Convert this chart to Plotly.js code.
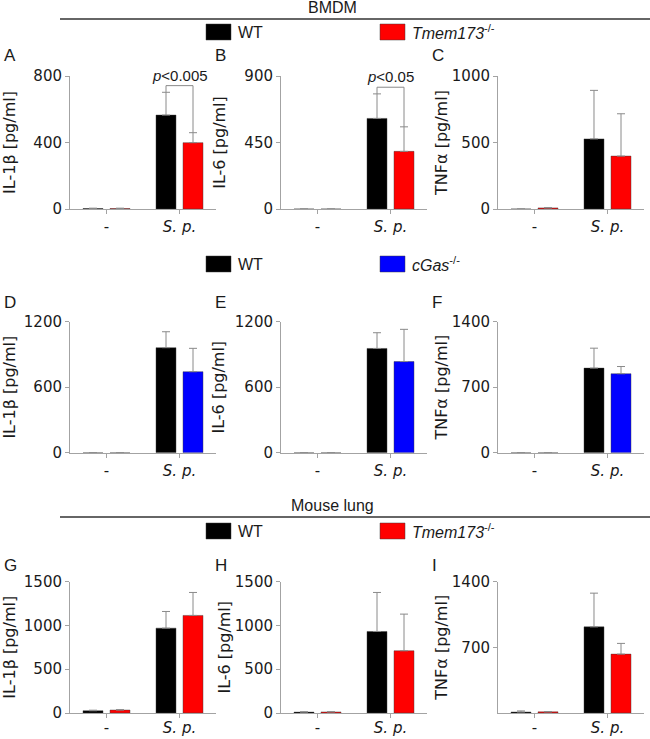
<!DOCTYPE html>
<html><head><meta charset="utf-8">
<script src="https://cdn.plot.ly/plotly-3.0.1.min.js"></script>
<style>body{margin:0;background:#fff}</style>
</head><body><div id="chart" style="width:650px;height:739px"></div>
<script>
const categories = ['-', 'S. p.'];
const categoryLabels = ['-', '<i>S. p.</i>'];
const seriesWT = 'WT';
const seriesTmem = '<i>Tmem173</i><sup>-/-</sup>';
const seriesCgas = '<i>cGas</i><sup>-/-</sup>';
const sectionTitles = ['BMDM', 'Mouse lung'];

// Row 1: BMDM, WT vs Tmem173-/-
const A_wt = [3, 565], A_wt_sd = [2, 137];
const A_ko = [3, 399], A_ko_sd = [2, 60];
const B_wt = [0, 613], B_wt_sd = [0, 166];
const B_ko = [0, 390], B_ko_sd = [0, 166];
const C_wt = [0, 527], C_wt_sd = [0, 365];
const C_ko = [8, 398], C_ko_sd = [2, 318];
// Row 2: BMDM, WT vs cGas-/-
const D_wt = [0, 962], D_wt_sd = [0, 146];
const D_ko = [0, 742], D_ko_sd = [0, 214];
const E_wt = [0, 955], E_wt_sd = [0, 144];
const E_ko = [0, 835], E_ko_sd = [0, 295];
const F_wt = [0, 904], F_wt_sd = [0, 213];
const F_ko = [0, 844], F_ko_sd = [0, 77];
// Row 3: Mouse lung, WT vs Tmem173-/-
const G_wt = [26, 968], G_wt_sd = [6, 190];
const G_ko = [34, 1113], G_ko_sd = [4, 262];
const H_wt = [10, 930], H_wt_sd = [4, 445];
const H_ko = [12, 710], H_ko_sd = [3, 418];
const I_wt = [10, 917], I_wt_sd = [12, 359];
const I_ko = [12, 627], I_ko_sd = [3, 114];

const panelLetters = ['A','B','C','D','E','F','G','H','I'];
const yTitles = ['IL-1β [pg/ml]','IL-6 [pg/ml]','TNFα [pg/ml]','IL-1β [pg/ml]','IL-6 [pg/ml]','TNFα [pg/ml]','IL-1β [pg/ml]','IL-6 [pg/ml]','TNFα [pg/ml]'];
const yMax = [800, 900, 1000, 1200, 1200, 1400, 1500, 1500, 1400];
const yTickVals = [[0,400,800],[0,450,900],[0,500,1000],[0,600,1200],[0,600,1200],[0,700,1400],[0,500,1000,1500],[0,500,1000,1500],[700,1400]];
const pPanels = [0, 1];
const pTexts = ['<i>p</i>&lt;0.005', '<i>p</i>&lt;0.05'];

const wtMeans = [A_wt,B_wt,C_wt,D_wt,E_wt,F_wt,G_wt,H_wt,I_wt];
const wtSDs = [A_wt_sd,B_wt_sd,C_wt_sd,D_wt_sd,E_wt_sd,F_wt_sd,G_wt_sd,H_wt_sd,I_wt_sd];
const koMeans = [A_ko,B_ko,C_ko,D_ko,E_ko,F_ko,G_ko,H_ko,I_ko];
const koSDs = [A_ko_sd,B_ko_sd,C_ko_sd,D_ko_sd,E_ko_sd,F_ko_sd,G_ko_sd,H_ko_sd,I_ko_sd];
const rowKO = [seriesTmem, seriesCgas, seriesTmem];
const rowKOColor = ['#ff0000', '#0000ff', '#ff0000'];

// ---- layout geometry (pixels) ----
const W = 650, H = 739;
const colX = [[70,216],[281,427],[498,644]];
const rowY = [[76,209],[321.7,452.7],[581.5,713]];
const xLabelShift = [0, 0, -3];
const letterX = [2, 213, 430];
const letterY = [56, 303, 565];
const legendY = [32, 264, 531];
const ruleY = [19, 517];
const headY = [8, 505];
const titleStandoff = [[14,14,0],[6,6,0],[8,0,0]];
const px = v => v / W;
const py = v => 1 - v / H;

const BARGAP = 0.26, BARGROUPGAP = 0.26;
const slot = (1 - BARGAP) / 2;

const axisGray = '#a3a3a3';
const errGray = '#8a8a8a';
const txtCol = '#1a1a1a';
const panelFont = {family: 'DejaVu Sans, Verdana, sans-serif', size: 15, color: txtCol};
const headFont = {family: 'Liberation Sans, Arial, sans-serif', size: 16, color: txtCol};

const traces = [];
const layout = {
  width: W, height: H,
  margin: {l: 0, r: 0, t: 0, b: 0},
  paper_bgcolor: '#fff', plot_bgcolor: '#fff',
  barmode: 'group', bargap: BARGAP, bargroupgap: BARGROUPGAP,
  showlegend: false,
  annotations: [], shapes: []
};

for (let i = 0; i < 9; i++) {
  const r = Math.floor(i / 3), c = i % 3;
  const sfx = i === 0 ? '' : String(i + 1);
  const xa = 'x' + sfx, ya = 'y' + sfx;
  const mk = (name, y, sd, color) => ({
    type: 'bar', name: name, x: categories, y: y,
    xaxis: xa, yaxis: ya,
    marker: {color: color, line: {color: 'rgba(60,60,60,0.55)', width: 0.8}},
    error_y: {type: 'data', symmetric: false, array: sd, arrayminus: sd.map(() => 0),
              color: errGray, thickness: 1, width: 4},
    hoverinfo: 'x+y+name'
  });
  traces.push(mk(seriesWT, wtMeans[i], wtSDs[i], '#000000'));
  traces.push(mk(rowKO[r], koMeans[i], koSDs[i], rowKOColor[r]));

  layout['xaxis' + sfx] = {
    domain: [px(colX[c][0]), px(colX[c][1])], anchor: ya,
    type: 'category', range: [-0.5, 1.5],
    tickmode: 'array', tickvals: categories, ticktext: categoryLabels,
    showline: true, linecolor: axisGray, linewidth: 1,
    ticks: 'outside', ticklen: 4, tickcolor: axisGray, ticklabelstandoff: xLabelShift[r],
    showgrid: false, zeroline: false, tickfont: panelFont, fixedrange: true
  };
  layout['yaxis' + sfx] = {
    domain: [py(rowY[r][1]), py(rowY[r][0])], anchor: xa,
    range: [0, yMax[i]], tickmode: 'array', tickvals: yTickVals[i],
    showline: true, linecolor: axisGray, linewidth: 1,
    ticks: 'outside', ticklen: 4, tickcolor: axisGray,
    showgrid: false, zeroline: false, tickfont: panelFont, fixedrange: true,
    title: {text: yTitles[i], font: {family: panelFont.family, size: 16, color: txtCol}, standoff: titleStandoff[r][c]}
  };
  layout.annotations.push({
    xref: 'paper', yref: 'paper', x: px(letterX[c]), y: py(letterY[r]),
    xanchor: 'left', yanchor: 'middle', showarrow: false,
    text: panelLetters[i], font: {family: headFont.family, size: 17, color: txtCol}
  });
}

// significance brackets
pPanels.forEach((i, k) => {
  const sfx = i === 0 ? '' : String(i + 1);
  const topWT = wtMeans[i][1] + wtSDs[i][1];
  const topKO = koMeans[i][1] + koSDs[i][1];
  const yb = Math.max(topWT, topKO) + 0.05 * yMax[i];
  const x0 = 1 - slot / 2, x1 = 1 + slot / 2;
  const ln = {color: errGray, width: 1};
  layout.shapes.push({type: 'line', xref: 'x' + sfx, yref: 'y' + sfx, x0: x0, x1: x0, y0: topWT, y1: yb, line: ln});
  layout.shapes.push({type: 'line', xref: 'x' + sfx, yref: 'y' + sfx, x0: x0, x1: x1, y0: yb, y1: yb, line: ln});
  layout.shapes.push({type: 'line', xref: 'x' + sfx, yref: 'y' + sfx, x0: x1, x1: x1, y0: topKO, y1: yb, line: ln});
  layout.annotations.push({
    xref: 'x' + sfx, yref: 'y' + sfx, x: 1, y: yb, yanchor: 'bottom', yshift: 0,
    showarrow: false, text: pTexts[k], font: {family: headFont.family, size: 15, color: txtCol}
  });
});

// section headers with rules
[0, 1].forEach(k => {
  layout.annotations.push({xref: 'paper', yref: 'paper', x: px(332), y: py(headY[k]), xanchor: 'center', yanchor: 'middle',
    showarrow: false, text: sectionTitles[k], font: headFont});
  layout.shapes.push({type: 'line', xref: 'paper', yref: 'paper', x0: px(60), x1: px(650), y0: py(ruleY[k]), y1: py(ruleY[k]),
    line: {color: '#333', width: 1.5}});
});

// legends per row
legendY.forEach((ly, r) => {
  const items = [[seriesWT, '#000000', 206], [rowKO[r], rowKOColor[r], 380]];
  items.forEach(([name, col, x]) => {
    layout.shapes.push({type: 'rect', xref: 'paper', yref: 'paper', x0: px(x), x1: px(x + 25), y0: py(ly + 8), y1: py(ly - 8),
      fillcolor: col, line: {color: 'rgba(60,60,60,0.6)', width: 0.8}});
    layout.annotations.push({xref: 'paper', yref: 'paper', x: px(x + 30), y: py(ly), xanchor: 'left', yanchor: 'middle',
      showarrow: false, text: name, font: {family: headFont.family, size: 16, color: txtCol}});
  });
});

Plotly.newPlot('chart', traces, layout, {displayModeBar: false, staticPlot: true});
</script></body></html>
